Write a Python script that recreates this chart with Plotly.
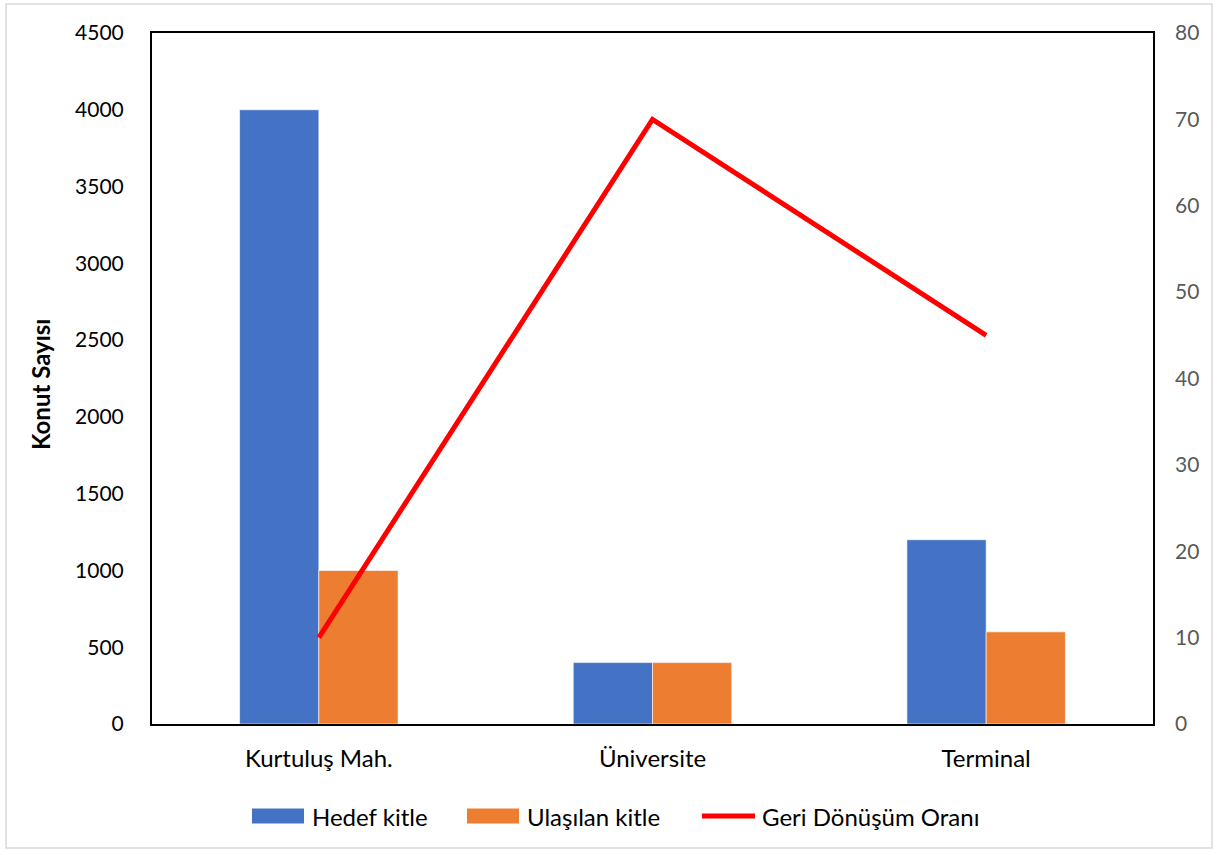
import plotly.graph_objects as go

categories = ["Kurtuluş Mah.", "Üniversite", "Terminal"]
hedef_kitle = [4000, 400, 1200]
ulasilan_kitle = [1000, 400, 600]
geri_donusum = [10, 70, 45]
left_ticks = [0, 500, 1000, 1500, 2000, 2500, 3000, 3500, 4000, 4500]
right_ticks = [0, 10, 20, 30, 40, 50, 60, 70, 80]

W, H = 1215, 852
L, R, T, B = 152, 1153, 33, 724
FONT = "Lato"

def px(x):
    return (x - L) / (R - L)

def py(y):
    return (B - y) / (B - T)

fig = go.Figure()
fig.add_trace(go.Bar(x=categories, y=hedef_kitle, name="Hedef kitle",
                     marker=dict(color="#4472C4", line=dict(color="rgba(255,255,255,0.6)", width=1))))
fig.add_trace(go.Bar(x=categories, y=ulasilan_kitle, name="Ulaşılan kitle",
                     marker=dict(color="#ED7D31", line=dict(color="rgba(255,255,255,0.6)", width=1))))
fig.add_trace(go.Scatter(x=categories, y=geri_donusum, name="Geri Dönüşüm Oranı",
                         mode="lines", line=dict(color="#FF0000", width=5), yaxis="y2"))

fig.update_layout(
    width=W, height=H,
    margin=dict(l=L, r=W - R, t=T, b=H - B, autoexpand=False),
    paper_bgcolor="white", plot_bgcolor="white",
    barmode="group", bargap=0.525, bargroupgap=0,
    showlegend=False,
    font=dict(family=FONT, color="black", size=20),
    xaxis=dict(showgrid=False, showline=True, linecolor="black", linewidth=2,
               mirror=True, ticks="", tickfont=dict(size=24, color="black"),
               ticklabelstandoff=12),
    yaxis=dict(range=[0, 4500], tickvals=left_ticks, showgrid=False, zeroline=False,
               showline=True, linecolor="black", linewidth=2, mirror=True, ticks="",
               tickfont=dict(size=21, color="black"), ticklabelstandoff=22),
    yaxis2=dict(range=[0, 80], tickvals=right_ticks, overlaying="y", side="right",
                showgrid=False, zeroline=False, showline=False, ticks="",
                tickfont=dict(size=21, color="#595959"), ticklabelstandoff=21),
)

# outer chart border
fig.add_shape(type="rect", xref="paper", yref="paper",
              x0=px(6), x1=px(1212), y0=py(848), y1=py(4),
              line=dict(color="#D9D9D9", width=1.5), fillcolor="rgba(0,0,0,0)", layer="below")

# y-axis title
fig.add_annotation(xref="paper", yref="paper", x=px(40), y=py(385), text="<b>Konut Sayısı</b>",
                   textangle=-90, showarrow=False, font=dict(size=24, color="black"),
                   xanchor="center", yanchor="middle")

# custom legend
legend_y = 816
items = [
    ("bar", "#4472C4", fig.data[0].name, 252, 304, 310),
    ("bar", "#ED7D31", fig.data[1].name, 467, 519, 525),
    ("line", "#FF0000", fig.data[2].name, 702, 755, 760),
]
for kind, color, name, x0, x1, tx in items:
    if kind == "bar":
        fig.add_shape(type="rect", xref="paper", yref="paper",
                      x0=px(x0), x1=px(x1), y0=py(legend_y + 7.5), y1=py(legend_y - 7.5),
                      fillcolor=color, line=dict(width=0))
    else:
        fig.add_shape(type="line", xref="paper", yref="paper",
                      x0=px(x0), x1=px(x1), y0=py(legend_y), y1=py(legend_y),
                      line=dict(color=color, width=5))
    fig.add_annotation(xref="paper", yref="paper", x=px(tx), y=py(legend_y), text=name,
                       showarrow=False, xanchor="left", yanchor="middle",
                       font=dict(size=24, color="black"))

fig.write_html("out.html")
